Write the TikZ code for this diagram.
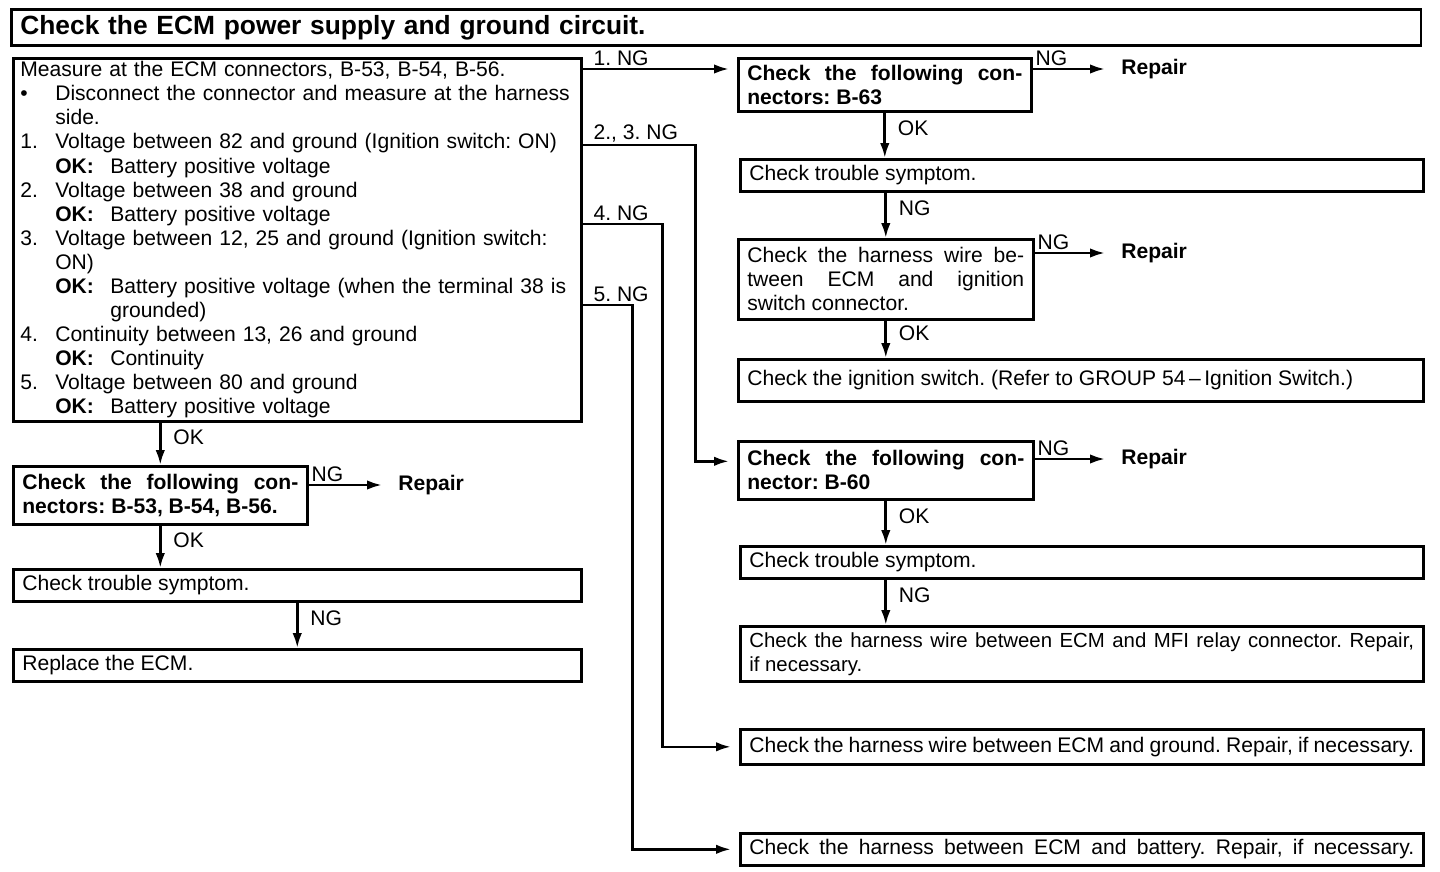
\documentclass[tikz,border=0pt]{standalone}
\usepackage{fontspec}
\setmainfont{Liberation Sans}
\usetikzlibrary{positioning,calc,arrows.meta}
\newcommand{\ecmitem}[2]{\makebox[7mm][l]{#1}#2}
\newcommand{\ecmok}[1]{\hspace*{7mm}\makebox[11mm][l]{\textbf{OK:}}#1}

\begin{document}
\frenchspacing
\begin{tikzpicture}[x=0.02cm, y=-0.02cm, >=Stealth, line width=1.5pt,
  font=\fontsize{12}{13.7}\selectfont,
  box/.style={draw, anchor=north west, inner xsep=0.18cm, inner ysep=2pt,
              align=justify},
  bbox/.style={box, font=\fontsize{12}{13.7}\selectfont\bfseries},
  rep/.style={anchor=west, inner sep=0pt, font=\fontsize{12}{13.7}\selectfont\bfseries},
  arr/.style={-{Latex[length=3mm, width=1.9mm]}},
  harr/.style={arr, shorten >=1.6mm},
  rarr/.style={arr, shorten >=3mm},
  lbl/.style={inner sep=1pt},
  okl/.style={right, pos=0.35, xshift=0.2cm, inner sep=1pt}]
  \useasboundingbox (0,0) rectangle (1440,872);

  % title
  \node[box, align=left, text width=27.84cm, minimum height=0.72cm,
        font=\fontsize{15}{18}\selectfont\bfseries] (title) at (10,8)
    {Check the ECM power supply and ground circuit.};

  % left column
  \node[box, align=left, text width=11.08cm, minimum height=7.26cm, inner xsep=0.14cm, inner ysep=1pt] (meas) at (12,57)
    {Measure at the ECM connectors, B-53, B-54, B-56.\\
     \ecmitem{\textbullet}{\makebox[10.25cm][s]{Disconnect the connector and measure at the harness}}\\
     \ecmitem{}{side.}\\
     \ecmitem{1.}{Voltage between 82 and ground (Ignition switch: ON)}\\
     \ecmok{Battery positive voltage}\\
     \ecmitem{2.}{Voltage between 38 and ground}\\
     \ecmok{Battery positive voltage}\\
     \ecmitem{3.}{\makebox[10.25cm][s]{Voltage between 12, 25 and ground (Ignition switch:}}\\
     \ecmitem{}{ON)}\\
     \ecmok{\makebox[9.15cm][s]{Battery positive voltage (when the terminal 38 is}}\\
     \hspace*{18mm}grounded)\\
     \ecmitem{4.}{Continuity between 13, 26 and ground}\\
     \ecmok{Continuity}\\
     \ecmitem{5.}{Voltage between 80 and ground}\\
     \ecmok{Battery positive voltage}};
  \node[bbox, text width=5.52cm, minimum height=1.16cm] (con5x) at (12,465)
    {Check the following con-\linebreak nectors: B-53, B-54, B-56.};
  \node[rep] (rep5x) at (397,485) {Repair};
  \node[box, text width=11cm, minimum height=0.64cm] (sym0) at (12,568) {Check trouble symptom.};
  \node[box, text width=11cm, minimum height=0.64cm] (ecm) at (12,648) {Replace the ECM.};

  % right column
  \node[bbox, text width=5.5cm, minimum height=1.06cm] (con63) at (737,57)
    {Check the following con-\linebreak nectors: B-63};
  \node[rep] (rep63) at (1120,69) {Repair};
  \node[box, text width=13.3cm, minimum height=0.64cm] (sym1) at (739,158) {Check trouble symptom.};
  \node[box, text width=5.54cm, minimum height=1.6cm] (wire1) at (737,238)
    {Check the harness wire be-\linebreak tween ECM and ignition\linebreak switch connector.};
  \node[rep] (rep1) at (1120,253) {Repair};
  \node[box, text width=13.34cm, minimum height=0.84cm] (ign) at (737,358)
    {Check the ignition switch. (Refer to GROUP 54\,–\,Ignition Switch.)};
  \node[bbox, text width=5.54cm, minimum height=1.16cm] (con60) at (737,440)
    {Check the following con-\linebreak nector: B-60};
  \node[rep] (rep60) at (1120,459) {Repair};
  \node[box, text width=13.3cm, minimum height=0.64cm] (sym2) at (739,545) {Check trouble symptom.};
  \node[box, text width=13.3cm, minimum height=1.1cm, font=\fontsize{11.6}{13.7}\selectfont] (mfi) at (739,625)
    {Check the harness wire between ECM and MFI relay connector. Repair,\linebreak if necessary.};
  \node[box, text width=13.3cm, minimum height=0.7cm] (gnd) at (739,728)
    {\makebox[13.3cm][s]{Check the harness wire between ECM and ground. Repair, if necessary.}};
  \node[box, text width=13.3cm, minimum height=0.64cm] (bat) at (739,832)
    {\makebox[13.3cm][s]{Check the harness between ECM and battery. Repair, if necessary.}};

  % NG branches
  \coordinate (ng1) at ([yshift=-0.24cm]meas.north east);
  \coordinate (ng23) at ([yshift=-1.76cm]meas.north east);
  \coordinate (ng4) at ([yshift=-3.34cm]meas.north east);
  \coordinate (ng5) at ([yshift=-4.96cm]meas.north east);
  \coordinate (k23) at ([xshift=2.26cm]ng23);
  \coordinate (k4) at ([xshift=1.6cm]ng4);
  \coordinate (k5) at ([xshift=1cm]ng5);
  \draw[harr] (ng1) -- node[lbl, pos=0, above right, xshift=0.16cm]{1. NG} (ng1 -| con63.west);
  \draw[harr] (ng23) -- node[lbl, pos=0, above right, xshift=0.16cm]{2., 3. NG} (k23)
    |- ([yshift=0.18cm]con60.west);
  \draw[harr] (ng4) -- node[lbl, pos=0, above right, xshift=0.16cm]{4. NG} (k4) |- (gnd.west);
  \draw[harr] (ng5) -- node[lbl, pos=0, above right, xshift=0.16cm]{5. NG} (k5) |- (bat.west);

  % repair arrows
  \draw[rarr] (con5x.east |- rep5x) -- node[lbl, pos=0, above right]{NG} (rep5x.west);
  \draw[rarr] (con63.east |- rep63) -- node[lbl, pos=0, above right]{NG} (rep63.west);
  \draw[rarr] (wire1.east |- rep1) -- node[lbl, pos=0, above right]{NG} (rep1.west);
  \draw[rarr] (con60.east |- rep60) -- node[lbl, pos=0, above right]{NG} (rep60.west);

  % vertical flow
  \draw[arr] (con5x.north |- meas.south) -- node[okl]{OK} (con5x.north);
  \draw[arr] (con5x.south) -- node[okl]{OK} (con5x.south |- sym0.north);
  \draw[arr] (sym0.south) -- node[okl]{NG} (ecm.north);
  \draw[arr] (con63.south) -- node[okl]{OK} (con63.south |- sym1.north);
  \draw[arr] (wire1.north |- sym1.south) -- node[okl]{NG} (wire1.north);
  \draw[arr] (wire1.south) -- node[okl]{OK} (wire1.south |- ign.north);
  \draw[arr] (con60.south) -- node[okl]{OK} (con60.south |- sym2.north);
  \draw[arr] (con60.south |- sym2.south) -- node[okl]{NG} (con60.south |- mfi.north);
\end{tikzpicture}
\end{document}
